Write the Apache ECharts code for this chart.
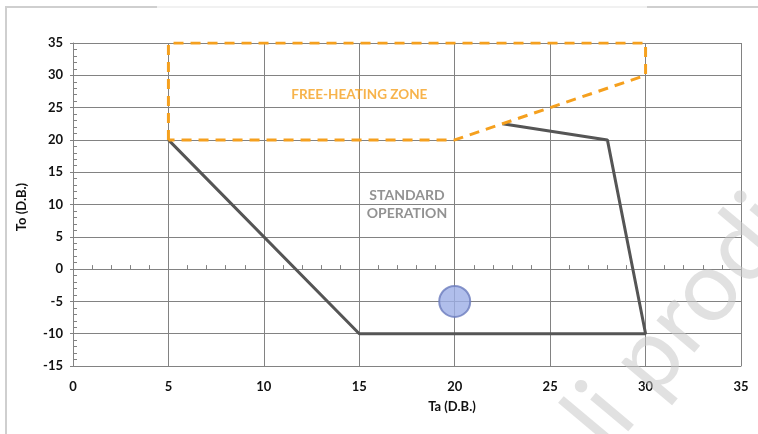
<!DOCTYPE html>
<html>
<head>
<meta charset="utf-8">
<script src="https://cdn.jsdelivr.net/npm/echarts@6/dist/echarts.min.js"></script>
<style>html,body{margin:0;padding:0;background:#fff;}#c{width:758px;height:434px;}</style>
</head>
<body>
<div id="c"></div>
<script>
// Data
const xTicks = [0, 5, 10, 15, 20, 25, 30, 35];
const yTicks = [-15, -10, -5, 0, 5, 10, 15, 20, 25, 30, 35];
const standardEnvelope = [[5, 20], [15, -10], [30, -10], [28, 20], [22.5, 22.5]];
const freeHeatingZone = [[5, 20], [5, 35], [30, 35], [30, 30], [20, 20], [5, 20]];
const operatingPoint = [[20, -5]];
const labelFreeHeating = { x: 15, y: 27, text: 'FREE-HEATING ZONE' };
const labelStandard = { x: 17.5, y: 10, text: 'STANDARD\nOPERATION' };
const xName = 'Ta (D.B.)';
const yName = 'To (D.B.)';

const chart = echarts.init(document.getElementById('c'));
const lblFont = { color: '#111', fontWeight: 'bold', fontSize: 13, fontFamily: 'Lato, sans-serif' };
const gridColor = '#828282';
const xMin = xTicks[0], xMax = xTicks[xTicks.length - 1];
const yMin = yTicks[0], yMax = yTicks[yTicks.length - 1];
const gridW = 758 - 73 - 17;

chart.setOption({
  animation: false,
  backgroundColor: '#fff',
  grid: { left: 73, right: 17, top: 43, bottom: 68 },
  xAxis: [{
    type: 'value', min: xMin, max: xMax, interval: 5,
    axisLine: { onZero: false, lineStyle: { color: gridColor } },
    axisTick: { show: false },
    axisLabel: Object.assign({ margin: 14 }, lblFont),
    splitLine: { show: true, lineStyle: { color: gridColor, width: 1 } }
  }, {
    type: 'value', min: xMin, max: xMax, interval: 5,
    position: 'top',
    axisLine: { show: true, onZero: true, onZeroAxisIndex: 0, lineStyle: { color: gridColor } },
    axisTick: { show: false },
    minorTick: { show: true, splitNumber: 5, length: 4, lineStyle: { color: gridColor } },
    axisLabel: { show: false },
    splitLine: { show: false }
  }],
  yAxis: [{
    type: 'value', min: yMin, max: yMax, interval: 5,
    axisLine: { show: true, onZero: false, lineStyle: { color: gridColor } },
    axisTick: { show: true, length: 3, lineStyle: { color: gridColor } },
    axisLabel: Object.assign({ margin: 10 }, lblFont),
    splitLine: { show: true, lineStyle: { color: gridColor, width: 1 } }
  }, {
    type: 'value', min: yMin, max: yMax, interval: 5, position: 'right', offset: -gridW,
    axisLine: { show: false, onZero: false },
    axisTick: { show: false },
    minorTick: { show: true, splitNumber: 5, length: 4, lineStyle: { color: gridColor } },
    axisLabel: { show: false },
    splitLine: { show: false }
  }],
  series: [{
    type: 'line', data: standardEnvelope, symbol: 'none',
    lineStyle: { color: '#555555', width: 3 }, z: 3
  }, {
    type: 'line', data: freeHeatingZone, symbol: 'none',
    lineStyle: { color: '#F5A01E', width: 3, type: [10, 7] }, z: 4
  }, {
    type: 'scatter', data: operatingPoint, symbolSize: 31,
    itemStyle: { color: '#9CAEE6', borderColor: '#6B7CBD', borderWidth: 2 }, z: 5
  }, {
    type: 'scatter', symbolSize: 0, silent: true,
    data: [[labelFreeHeating.x, labelFreeHeating.y]],
    label: { show: true, position: 'inside', formatter: labelFreeHeating.text,
      color: '#F5A01E', fontWeight: 'bold', fontSize: 13.5, fontFamily: 'Lato, sans-serif' }
  }, {
    type: 'scatter', symbolSize: 0, silent: true,
    data: [[labelStandard.x, labelStandard.y]],
    label: { show: true, position: 'inside', formatter: labelStandard.text, align: 'center',
      color: '#777', fontWeight: 'bold', fontSize: 14, lineHeight: 18, fontFamily: 'Lato, sans-serif' }
  }],
  graphic: [
    { type: 'text', x: 452, y: 407, style: { text: xName, fill: '#111', font: 'bold 13px Lato, sans-serif', textAlign: 'center', textVerticalAlign: 'middle' } },
    { type: 'text', x: 22, y: 207, rotation: Math.PI / 2, style: { text: yName, fill: '#111', font: 'bold 13px Lato, sans-serif', textAlign: 'center', textVerticalAlign: 'middle' } },
    { type: 'polyline', shape: { points: [[6, 434], [6, 7], [157, 7]] }, style: { stroke: '#cfcfcf', lineWidth: 2, fill: null } },
    { type: 'line', shape: { x1: 157, y1: 7, x2: 647, y2: 7 }, style: { stroke: '#f1f1f1', lineWidth: 2 } },
    { type: 'line', shape: { x1: 647, y1: 7, x2: 758, y2: 7 }, style: { stroke: '#cfcfcf', lineWidth: 2 } },
    { type: 'text', x: 622, y: 466, rotation: Math.PI * 50 / 180, z: 100,
      style: { text: 'li prodi', fill: 'rgba(200,200,200,0.55)', font: '98px Lato, sans-serif', textAlign: 'left', textVerticalAlign: 'bottom' } }
  ]
});
</script>
</body>
</html>
